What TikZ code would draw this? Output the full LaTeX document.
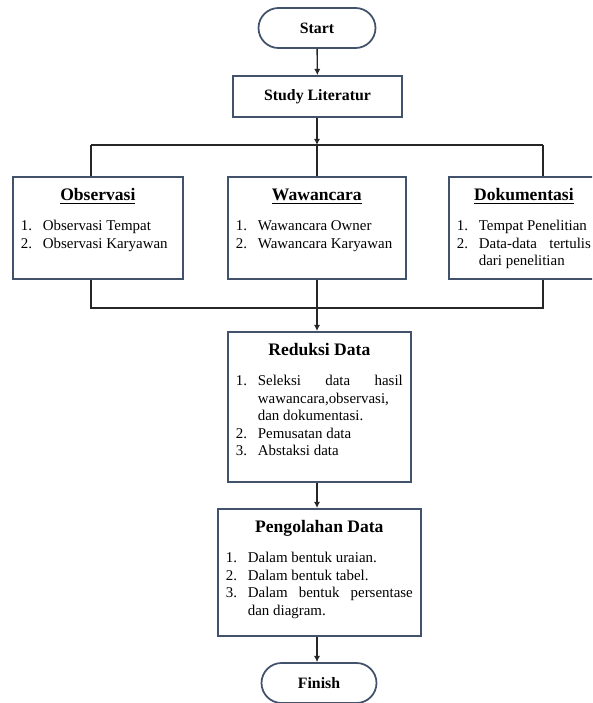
\documentclass[tikz,border=0pt]{standalone}
\usepackage{fontspec}
\setmainfont{Liberation Serif}
\usetikzlibrary{arrows.meta}
\definecolor{BoxClr}{RGB}{66,82,106}
\definecolor{LineClr}{RGB}{38,38,38}

\newcommand\stepfont{\fontsize{8.5}{10}\selectfont}
\newcommand\boxhead[1]{{\centering\rule{0pt}{13.5pt}\fontsize{10}{12}\selectfont\bfseries #1\par}\vspace{7pt}}
\newcommand\itm[2]{\par\noindent\hangindent=0.44cm\hangafter=1\makebox[0.44cm][l]{#1}#2\par}

\tikzset{
  terminal/.style={draw=BoxClr,line width=1pt,rounded corners=0.4cm,
    minimum height=0.8cm,font=\fontsize{9}{11}\selectfont\bfseries},
  procbox/.style={draw=BoxClr,line width=1pt,font=\fontsize{9}{11}\selectfont\bfseries},
  stepbox/.style={draw=BoxClr,line width=1pt,anchor=north west,inner xsep=0.16cm,inner ysep=0pt},
  line/.style={draw=LineClr,line width=0.8pt},
  link/.style={line,-{Latex[length=3.5pt,width=3.5pt]}}
}

\begin{document}
\begin{tikzpicture}[x=0.02cm,y=-0.02cm]
\useasboundingbox (0,0) rectangle (592,703);
\clip (0,0) rectangle (592,703);
\fill[white] (0,0) rectangle (592,703);

% start and literature study
\node[terminal,minimum width=2.34cm] (start) at (317,28) {Start};
\node[procbox,minimum width=3.38cm,minimum height=0.82cm] (lit) at (317.5,96.5) {Study Literatur};

% data collection
\node[stepbox] (obs) at (12,176) {\parbox[t][2.04cm][t]{3.08cm}{\stepfont
  \boxhead{\underline{Observasi}}
  \itm{1.}{Observasi Tempat}
  \itm{2.}{Observasi Karyawan}}};
\node[stepbox] (waw) at (227,176) {\parbox[t][2.04cm][t]{3.24cm}{\stepfont
  \boxhead{\underline{Wawancara}}
  \itm{1.}{Wawancara Owner}
  \itm{2.}{Wawancara Karyawan}}};
\node[stepbox] (dok) at (448,176) {\parbox[t][2.04cm][t]{2.68cm}{\stepfont
  \boxhead{\underline{Dokumentasi}}
  \itm{1.}{Tempat Penelitian}
  \itm{2.}{Data-data tertulis\linebreak dari penelitian}}};

% processing
\node[stepbox] (red) at (227,331) {\parbox[t][3.0cm][t]{3.34cm}{\stepfont
  \boxhead{Reduksi Data}
  \itm{1.}{Seleksi data hasil\linebreak wawancara,observasi,\newline dan dokumentasi.}
  \itm{2.}{Pemusatan data}
  \itm{3.}{Abstaksi data}}};
\node[stepbox] (peng) at (217,508) {\parbox[t][2.54cm][t]{3.74cm}{\stepfont
  \boxhead{Pengolahan Data}
  \itm{1.}{Dalam bentuk uraian.}
  \itm{2.}{Dalam bentuk tabel.}
  \itm{3.}{Dalam bentuk persentase\linebreak dan diagram.}}};

\node[terminal,minimum width=2.3cm] (fin) at (319,683) {Finish};

% junctions
\coordinate (topM) at (317,145);
\coordinate (topL) at (91,145);
\coordinate (topR) at (543,145);
\coordinate (botM) at (317,308);
\coordinate (botL) at (91,308);
\coordinate (botR) at (543,308);

\draw[link] (start) -- (lit);
\draw[link] (lit.south -| topM) -- (topM);
\draw[line] (topL) -- (topR);
\draw[line] (topL) -- (topL |- obs.north);
\draw[line] (topM) -- (topM |- waw.north);
\draw[line] (topR) -- (topR |- dok.north);

\draw[line] (topL |- obs.south) -- (botL) -- (botR) -- (topR |- dok.south);
\draw[line] (topM |- waw.south) -- (botM);
\draw[link] (botM) -- (botM |- red.north);
\draw[link] (red.south -| topM) -- (topM |- peng.north);
\draw[link] (peng.south -| topM) -- (topM |- fin.north);

\end{tikzpicture}
\end{document}
